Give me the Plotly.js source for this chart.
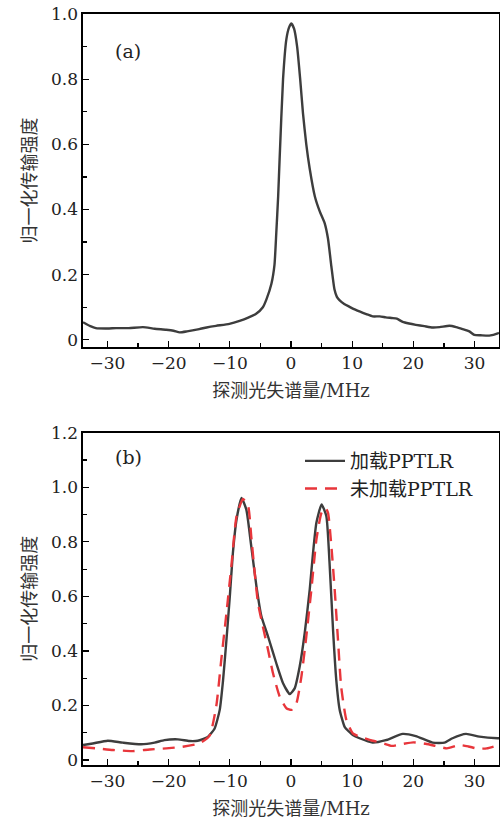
<!DOCTYPE html>
<html>
<head>
<meta charset="utf-8">
<script src="https://cdn.plot.ly/plotly-3.0.1.min.js"></script>
<style>html,body{margin:0;padding:0;background:#fff;}#chart{width:500px;height:819px;}</style>
</head>
<body>
<div id="chart"></div>
<script>
// Panel (a)
const xA = [-34, -32.8, -31.9, -30, -28.6, -26.5, -24.2, -22.3, -20.4, -19.2, -18.2, -17, -15, -13.8, -12.25, -10.07, -8.4, -7.0, -5.7, -4.6, -4.0, -3.2, -2.7, -2.4, -2.1, -1.85, -1.3, -0.76, -0.33, 0.06, 0.5, 1.0, 1.5, 1.96, 2.5, 3.06, 3.9, 4.7, 5.5, 6.05, 6.6, 7.1, 7.5, 7.96, 8.7, 9.5, 10.3, 11.2, 12.3, 13.35, 14.5, 15.5, 16.5, 17.3, 18.25, 19.3, 20.4, 21.8, 23.15, 24.3, 25.9, 27.0, 28.05, 29.15, 29.97, 31.0, 32.4, 33.8, 34];
const yA = [0.054, 0.042, 0.036, 0.035, 0.036, 0.036, 0.039, 0.034, 0.031, 0.028, 0.023, 0.026, 0.033, 0.038, 0.043, 0.049, 0.058, 0.068, 0.08, 0.1, 0.125, 0.172, 0.23, 0.33, 0.44, 0.56, 0.8, 0.922, 0.958, 0.971, 0.955, 0.9, 0.8, 0.695, 0.6, 0.525, 0.44, 0.394, 0.358, 0.31, 0.225, 0.155, 0.132, 0.121, 0.11, 0.102, 0.094, 0.087, 0.079, 0.072, 0.072, 0.069, 0.067, 0.065, 0.055, 0.05, 0.046, 0.042, 0.038, 0.039, 0.043, 0.039, 0.033, 0.026, 0.015, 0.014, 0.013, 0.02, 0.022];

// Panel (b): loaded PPTLR
const xLoaded = [-34, -32.4, -29.95, -27.5, -24.5, -22.3, -20.7, -18.5, -16.6, -15.25, -13.6, -12.5, -11.65, -11.1, -10.55, -10.0, -9.5, -8.9, -8.1, -7.3, -6.5, -5.65, -4.84, -3.75, -2.4, -1.3, -0.2, 0.6, 1.42, 2.24, 3.06, 3.6, 4.15, 5.0, 5.78, 6.3, 6.87, 7.4, 7.96, 8.77, 9.5, 10.1, 11.2, 13.35, 15.5, 18.25, 20.4, 23.15, 25.1, 26.4, 28.6, 30.8, 33.8, 34];
const yLoaded = [0.055, 0.061, 0.071, 0.064, 0.058, 0.064, 0.073, 0.076, 0.07, 0.071, 0.085, 0.115, 0.184, 0.294, 0.441, 0.6, 0.759, 0.882, 0.961, 0.918, 0.784, 0.637, 0.527, 0.453, 0.355, 0.282, 0.242, 0.263, 0.343, 0.465, 0.625, 0.759, 0.87, 0.937, 0.894, 0.723, 0.478, 0.294, 0.184, 0.122, 0.104, 0.092, 0.08, 0.064, 0.073, 0.096, 0.088, 0.064, 0.064, 0.08, 0.096, 0.086, 0.08, 0.08];

// Panel (b): unloaded PPTLR
const xUnloaded = [-34, -31.8, -29.1, -25.9, -23.1, -20.4, -17.7, -15.0, -13.3, -12.2, -11.4, -10.55, -9.75, -8.9, -7.84, -7.0, -6.5, -5.93, -5.4, -4.6, -3.75, -2.94, -1.85, -0.75, 0.06, 0.88, 1.7, 2.5, 3.33, 4.15, 4.97, 5.6, 6.05, 6.6, 7.14, 7.68, 8.2, 9.05, 10.1, 11.2, 13.35, 15, 16.5, 18, 20, 22, 24, 25.5, 27.5, 29, 30.5, 32, 33.9];
const yUnloaded = [0.047, 0.043, 0.037, 0.033, 0.039, 0.043, 0.049, 0.061, 0.09, 0.2, 0.367, 0.539, 0.71, 0.894, 0.957, 0.93, 0.82, 0.686, 0.576, 0.49, 0.404, 0.318, 0.233, 0.19, 0.184, 0.208, 0.306, 0.453, 0.625, 0.808, 0.906, 0.925, 0.906, 0.784, 0.625, 0.441, 0.269, 0.147, 0.098, 0.086, 0.071, 0.062, 0.052, 0.058, 0.065, 0.06, 0.05, 0.043, 0.055, 0.05, 0.042, 0.043, 0.055];

const seriesNames = ['加载PPTLR', '未加载PPTLR'];
const xTickVals = [-30, -20, -10, 0, 10, 20, 30];
const xTickText = ['−30', '−20', '−10', '0', '10', '20', '30'];
const yTickValsA = [0, 0.2, 0.4, 0.6, 0.8, 1.0];
const yTickTextA = ['0', '0.2', '0.4', '0.6', '0.8', '1.0'];
const yTickValsB = [0, 0.2, 0.4, 0.6, 0.8, 1.0, 1.2];
const yTickTextB = ['0', '0.2', '0.4', '0.6', '0.8', '1.0', '1.2'];
const xTitle = '探测光失谱量/MHz';
const yTitle = '归一化传输强度';

const FONT = "'DejaVu Serif', 'Noto Sans CJK SC', serif";
const dark = '#3d3d3d';
const red = '#e8363b';

const traces = [
  {x: xA, y: yA, xaxis: 'x', yaxis: 'y', mode: 'lines', showlegend: false,
   line: {color: dark, width: 2.4, shape: 'spline', smoothing: 0.5}},
  {x: xLoaded, y: yLoaded, xaxis: 'x2', yaxis: 'y2', mode: 'lines', name: seriesNames[0],
   line: {color: dark, width: 2.4, shape: 'spline', smoothing: 0.5}},
  {x: xUnloaded, y: yUnloaded, xaxis: 'x2', yaxis: 'y2', mode: 'lines', name: seriesNames[1],
   line: {color: red, width: 2.4, dash: '12px,8px', shape: 'spline', smoothing: 0.5}}
];

function xAxis(anchor) {
  return {
    domain: [83/500, 499/500], anchor: anchor, range: [-34, 34],
    tickvals: xTickVals, ticktext: xTickText,
    ticks: 'inside', ticklen: 6, tickwidth: 1.2, tickcolor: '#000',
    minor: {ticks: 'inside', ticklen: 4, tickwidth: 1.2, tickcolor: '#000', tickvals: [-25, -15, -5, 5, 15, 25]},
    showline: true, linecolor: '#000', linewidth: 1.6, mirror: true,
    showgrid: false, zeroline: false,
    tickfont: {family: FONT, size: 17, color: '#222'},
    title: {text: xTitle, font: {family: FONT, size: 18, color: '#333'}, standoff: 12},
    automargin: false
  };
}
function yAxis(domain, anchor, range, tv, tt, minorVals) {
  return {
    domain: domain, anchor: anchor, range: range,
    tickvals: tv, ticktext: tt,
    ticks: 'inside', ticklen: 6, tickwidth: 1.2, tickcolor: '#000',
    minor: {ticks: 'inside', ticklen: 4, tickwidth: 1.2, tickcolor: '#000', tickvals: minorVals},
    showline: true, linecolor: '#000', linewidth: 1.6, mirror: true,
    showgrid: false, zeroline: false,
    tickfont: {family: FONT, size: 17, color: '#222'},
    title: {text: yTitle, font: {family: FONT, size: 18, color: '#333'}, standoff: 9},
    automargin: false
  };
}

const layout = {
  width: 500, height: 819,
  margin: {l: 0, r: 0, t: 0, b: 0},
  paper_bgcolor: '#fff', plot_bgcolor: '#fff',
  font: {family: FONT, color: '#222'},
  xaxis: xAxis('y'),
  yaxis: yAxis([1 - 347/819, 1 - 14/819], 'x', [-0.022, 1.0], yTickValsA, yTickTextA, [0.1, 0.3, 0.5, 0.7, 0.9]),
  xaxis2: xAxis('y2'),
  yaxis2: yAxis([1 - 765/819, 1 - 432.7/819], 'x2', [-0.018, 1.2], yTickValsB, yTickTextB, [0.1, 0.3, 0.5, 0.7, 0.9, 1.1]),
  legend: {x: 300/500, y: 1 - 442/819, xanchor: 'left', yanchor: 'top',
           bgcolor: 'rgba(0,0,0,0)', borderwidth: 0, itemwidth: 40,
           font: {family: FONT, size: 19, color: '#222'}},
  annotations: [
    {text: '(a)', xref: 'paper', yref: 'paper', x: 113/500, y: 1 - 38/819, showarrow: false,
     font: {family: FONT, size: 19, color: '#222'}},
    {text: '(b)', xref: 'paper', yref: 'paper', x: 113/500, y: 1 - 456.7/819, showarrow: false,
     font: {family: FONT, size: 19, color: '#222'}}
  ],
  showlegend: true
};

Plotly.newPlot('chart', traces, layout, {displayModeBar: false, staticPlot: true});
</script>
</body>
</html>
